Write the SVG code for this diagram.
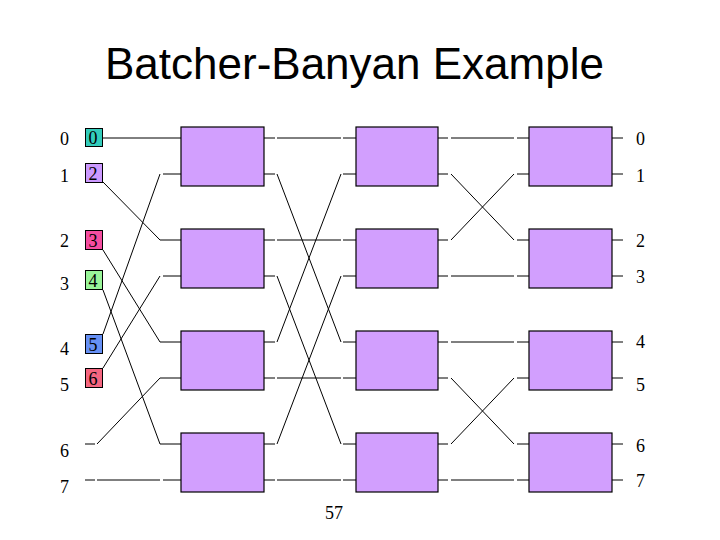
<svg xmlns="http://www.w3.org/2000/svg" width="720" height="540" viewBox="0 0 720 540">
<style>
.t{font-family:"Liberation Serif","Times New Roman",serif;font-size:18px;fill:#000}
.title{font-family:"Liberation Sans",Arial,sans-serif;font-size:44px;fill:#000}
.sw{fill:#D29FFE;stroke:#000;stroke-width:1.2}
.tag{stroke:#000;stroke-width:1}
.ln{fill:none;stroke:#000;stroke-width:1}
</style>
<rect width="720" height="540" fill="#fff"/>
<text class="title" x="105" y="79">Batcher-Banyan Example</text>

<g id="in-labels">
<text class="t" x="60" y="145">0</text>
<text class="t" x="60" y="182">1</text>
<text class="t" x="60" y="247">2</text>
<text class="t" x="60" y="290">3</text>
<text class="t" x="60" y="355">4</text>
<text class="t" x="60" y="391">5</text>
<text class="t" x="60" y="457">6</text>
<text class="t" x="60" y="493">7</text>
</g>

<g id="tags">
<g id="tag0"><rect class="tag" x="85.5" y="128.5" width="17" height="18" fill="#33CCBB"/><text class="t" x="88.5" y="144">0</text></g>
<g id="tag2"><rect class="tag" x="85.5" y="163.5" width="17" height="19" fill="#CC99FF"/><text class="t" x="88.5" y="180">2</text></g>
<g id="tag3"><rect class="tag" x="85.5" y="230.5" width="17" height="19" fill="#F54DA0"/><text class="t" x="88.5" y="247">3</text></g>
<g id="tag4"><rect class="tag" x="85.5" y="270.5" width="17" height="19" fill="#99F599"/><text class="t" x="88.5" y="287">4</text></g>
<g id="tag5"><rect class="tag" x="85.5" y="334.5" width="17" height="19" fill="#6690F5"/><text class="t" x="88.5" y="351">5</text></g>
<g id="tag6"><rect class="tag" x="85.5" y="368.5" width="17" height="19" fill="#F56680"/><text class="t" x="88.5" y="385">6</text></g>
</g>

<g id="connectors" class="ln">
<path d="M103,138H181"/>
<path d="M103,182L160,240H181"/>
<path d="M103,334L160,174"/><path d="M163,174H181"/>
<path d="M103,250L160,342H181"/>
<path d="M103,290L160,444H181"/>
<path d="M103,368L160,276"/><path d="M163,276H181"/>
<path d="M85,444H95"/><path d="M97,444L160,378H181"/>
<path d="M85,480H95"/><path d="M97,480H160"/><path d="M163,480H181"/>
<path d="M264,138H275M264,174H275M264,240H275M264,276H275M264,342H275M264,378H275M264,444H275M264,480H275"/>
<path d="M343,138H356M343,174H356M343,240H356M343,276H356M343,342H356M343,378H356M343,444H356M343,480H356"/>
<path d="M277,138H341"/>
<path d="M277,174L341,342"/>
<path d="M277,240H341"/>
<path d="M277,276L341,444"/>
<path d="M277,342L341,174"/>
<path d="M277,378H341"/>
<path d="M277,444L341,276"/>
<path d="M277,480H341"/>
<path d="M438,138H448M438,174H448M438,240H448M438,276H448M438,342H448M438,378H448M438,444H448M438,480H448"/>
<path d="M517,138H529M517,174H529M517,240H529M517,276H529M517,342H529M517,378H529M517,444H529M517,480H529"/>
<path d="M451,138H514"/>
<path d="M451,174L514,240"/>
<path d="M451,240L514,174"/>
<path d="M451,276H514"/>
<path d="M451,342H514"/>
<path d="M451,378L514,444"/>
<path d="M451,444L514,378"/>
<path d="M451,480H514"/>
<path d="M612,138H623M612,174H623M612,240H623M612,276H623M612,342H623M612,378H623M612,444H623M612,480H623"/>
</g>

<g id="col1">
<g id="s1a"><rect class="sw" x="181" y="127" width="83" height="59"/></g>
<g id="s1b"><rect class="sw" x="181" y="229" width="83" height="59"/></g>
<g id="s1c"><rect class="sw" x="181" y="331" width="83" height="59"/></g>
<g id="s1d"><rect class="sw" x="181" y="433" width="83" height="59"/></g>
</g>
<g id="col2">
<g id="s2a"><rect class="sw" x="356" y="127" width="82" height="59"/></g>
<g id="s2b"><rect class="sw" x="356" y="229" width="82" height="59"/></g>
<g id="s2c"><rect class="sw" x="356" y="331" width="82" height="59"/></g>
<g id="s2d"><rect class="sw" x="356" y="433" width="82" height="59"/></g>
</g>
<g id="col3">
<g id="s3a"><rect class="sw" x="529" y="127" width="83" height="59"/></g>
<g id="s3b"><rect class="sw" x="529" y="229" width="83" height="59"/></g>
<g id="s3c"><rect class="sw" x="529" y="331" width="83" height="59"/></g>
<g id="s3d"><rect class="sw" x="529" y="433" width="83" height="59"/></g>
</g>

<g id="out-labels">
<text class="t" x="636" y="145">0</text>
<text class="t" x="636" y="182">1</text>
<text class="t" x="636" y="247">2</text>
<text class="t" x="636" y="283">3</text>
<text class="t" x="636" y="348">4</text>
<text class="t" x="636" y="391">5</text>
<text class="t" x="636" y="452">6</text>
<text class="t" x="636" y="487">7</text>
</g>

<text class="t" x="325" y="519">57</text>
</svg>
